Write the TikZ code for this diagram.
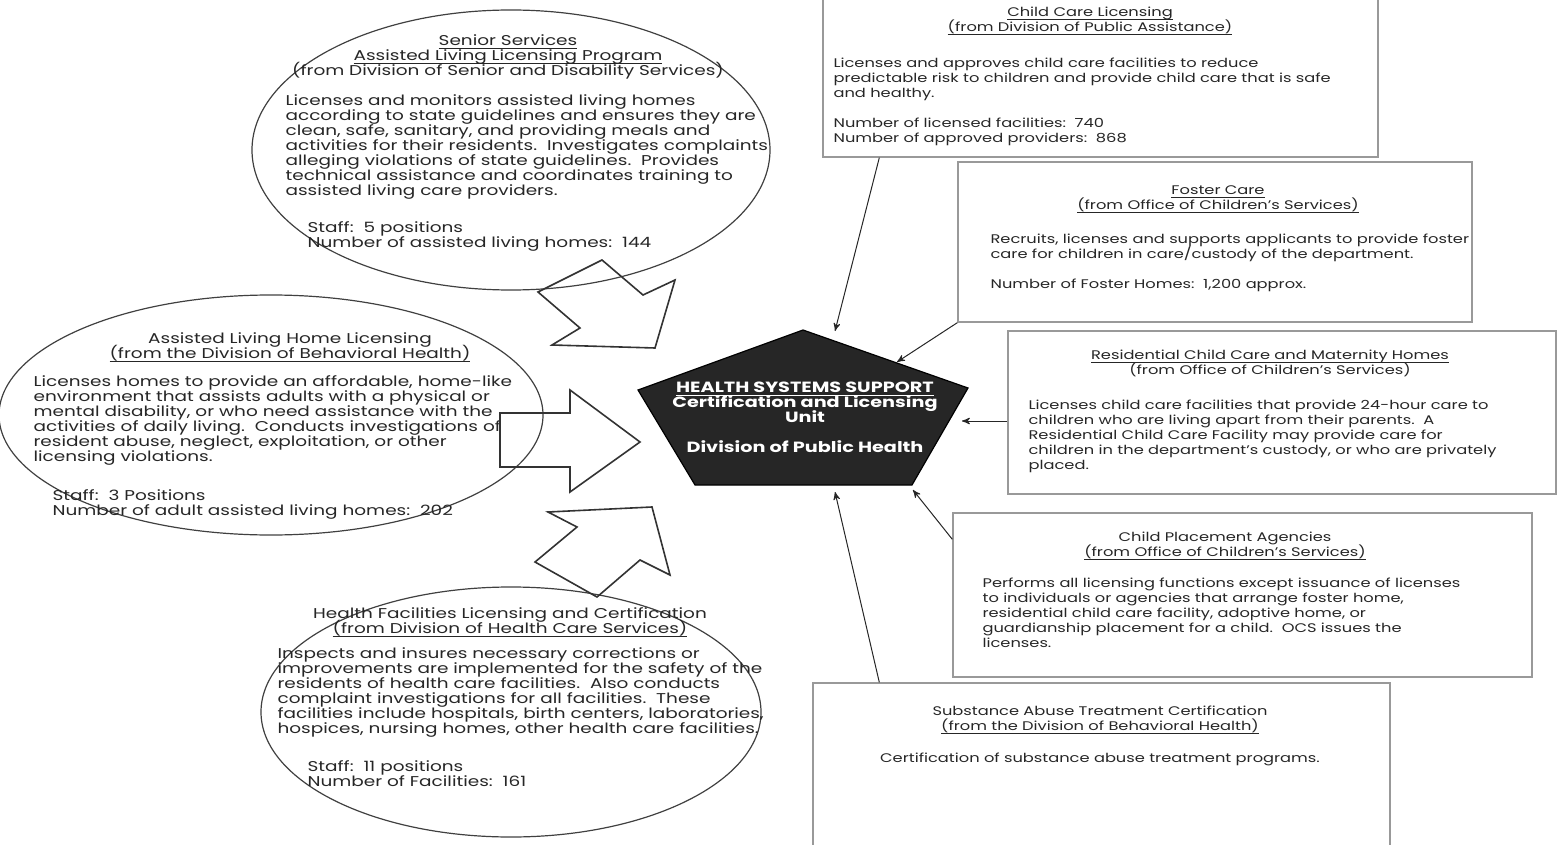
\documentclass[tikz,border=0pt]{standalone}
\usepackage{fontspec}
\setmainfont{Poppins}[FakeStretch=1.3]
\usetikzlibrary{arrows,positioning}

\newcommand{\uln}[1]{\underline{\smash{#1}\vphantom{A}}}
\newcommand{\tightlead}{\setlength{\lineskiplimit}{-20pt}}
\newcommand{\bigtxt}{\fontsize{7.1}{7.5}\selectfont\tightlead}
\newcommand{\smalltxt}{\fontsize{6.25}{7.5}\selectfont\tightlead}
\newcommand{\hubtxt}{\bfseries\fontsize{7.4}{7.5}\selectfont\tightlead}

\begin{document}
\begin{tikzpicture}[x=0.5pt,y=-0.5pt,>=stealth',semithick,
    bubble/.style={draw=black!75,line width=0.6pt},
    panel/.style={draw=black!40,line width=0.7pt,inner sep=0pt},
    head/.style={align=center,inner sep=0pt,text=black!85},
    body/.style={align=left,inner sep=0pt,text=black!85},
    big/.style={font=\bigtxt},
    small/.style={font=\smalltxt},
    fat/.style={draw=black!80,line width=0.8pt},
    link/.style={->,draw=black!85,line width=0.5pt}]

\useasboundingbox (0,0) rectangle (1558,845);

% ellipses on the left
\draw[bubble] (511,150) ellipse [x radius=259, y radius=140];
\draw[bubble] (271,415) ellipse [x radius=272, y radius=120];
\draw[bubble] (511,712) ellipse [x radius=250, y radius=125];

\node[head,big,anchor=north] (srhead) at (508,35)
  {\uln{Senior Services}\\\uln{Assisted Living Licensing Program}\\(from Division of Senior and Disability Services)};
\node[body,big,anchor=north west] (srtext) at (285,94)
  {Licenses and monitors assisted living homes\\according to state guidelines and ensures they are\\clean, safe, sanitary, and providing meals and\\activities for their residents.\ \ Investigates complaints\\alleging violations of state guidelines.\ \ Provides\\technical assistance and coordinates training to\\assisted living care providers.};
\node[body,big,anchor=north west] (srstaff) at (307,221)
  {Staff:\ \ 5 positions\\Number of assisted living homes:\ \ 144};

\node[head,big,anchor=north] (alhead) at (290,332)
  {Assisted Living Home Licensing\\\uln{(from the Division of Behavioral Health)}};
\node[body,big,anchor=north west] (altext) at (33,375)
  {Licenses homes to provide an affordable, home-like\\environment that assists adults with a physical or\\mental disability, or who need assistance with the\\activities of daily living.\ \ Conducts investigations of\\resident abuse, neglect, exploitation, or other\\licensing violations.};
\node[body,big,anchor=north west] (alstaff) at (52,489)
  {Staff:\ \ 3 Positions\\Number of adult assisted living homes:\ \ 202};

\node[head,big,anchor=north] (hfhead) at (510,607)
  {Health Facilities Licensing and Certification\\\uln{(from Division of Health Care Services)}};
\node[body,big,anchor=north west] (hftext) at (277,647)
  {Inspects and insures necessary corrections or\\improvements are implemented for the safety of the\\residents of health care facilities.\ \ Also conducts\\complaint investigations for all facilities.\ \ These\\facilities include hospitals, birth centers, laboratories,\\hospices, nursing homes, other health care facilities.};
\node[body,big,anchor=north west] (hfstaff) at (307,760)
  {Staff:\ \ 11 positions\\Number of Facilities:\ \ 161};

% block arrows
\draw[fat] (602,260) -- (643,295) -- (675,280) -- (655,348) -- (552,345) -- (580,328) -- (538,292) -- cycle;
\draw[fat] (500,413) -- (570,413) -- (570,390) -- (640,442) -- (570,492) -- (570,467) -- (500,467) -- cycle;
\draw[fat] (548,512) -- (652,507) -- (670,575) -- (640,560) -- (597,597) -- (535,562) -- (577,527) -- cycle;

% centre
\draw[fill=black!85,draw=black] (803,330) -- (968,388) -- (912,485) -- (695,485) -- (638,390) -- cycle;
\node[font=\hubtxt,text=white,align=center,inner sep=0pt] (hss) at (805,417)
  {\uln{HEALTH SYSTEMS SUPPORT}\\Certification and Licensing\\Unit\\[7.5pt]Division of Public Health};

\coordinate (pa) at (835,331);
\coordinate (pb) at (897,362);
\coordinate (pc) at (962,421);
\coordinate (pd) at (913,490);
\coordinate (pe) at (835,492);

% boxes on the right
\node[panel,minimum width=277.5pt,minimum height=81pt] (ccl) at (1100.5,76) {};
\node[panel,minimum width=257pt,minimum height=80pt] (fc) at (1215,242) {};
\node[panel,minimum width=274pt,minimum height=81.5pt] (rcc) at (1282,412.5) {};
\node[panel,minimum width=289.5pt,minimum height=82pt] (cpa) at (1242.5,595) {};
\node[panel,minimum width=288.5pt,minimum height=88.5pt] (sat) at (1101.5,771.5) {};

\node[head,small,anchor=north] (cclhead) at (1090,7)
  {\uln{Child Care Licensing}\\\uln{(from Division of Public Assistance)}};
\node[body,small,anchor=north west] (ccltext) at (833,57)
  {Licenses and approves child care facilities to reduce\\predictable risk to children and provide child care that is safe\\and healthy.\\[7.5pt]Number of licensed facilities:\ \ 740\\Number of approved providers:\ \ 868};

\node[head,small,anchor=north] (fchead) at (1218,185)
  {\uln{Foster Care}\\\uln{(from Office of Children's Services)}};
\node[body,small,anchor=north west] (fctext) at (990,233)
  {Recruits, licenses and supports applicants to provide foster\\care for children in care/custody of the department.\\[7.5pt]Number of Foster Homes:\ \ 1,200 approx.};

\node[head,small,anchor=north] (rcchead) at (1270,350)
  {\uln{Residential Child Care and Maternity Homes}\\(from Office of Children's Services)};
\node[body,small,anchor=north west] (rcctext) at (1028,399)
  {Licenses child care facilities that provide 24-hour care to\\children who are living apart from their parents.\ \ A\\Residential Child Care Facility may provide care for\\children in the department's custody, or who are privately\\placed.};

\node[head,small,anchor=north] (cpahead) at (1225,531)
  {Child Placement Agencies\\\uln{(from Office of Children's Services)}};
\node[body,small,anchor=north west] (cpatext) at (982,577)
  {Performs all licensing functions except issuance of licenses\\to individuals or agencies that arrange foster home,\\residential child care facility, adoptive home, or\\guardianship placement for a child.\ \ OCS issues the\\licenses.};

\node[head,small,anchor=north] (sathead) at (1100,705)
  {Substance Abuse Treatment Certification\\\uln{(from the Division of Behavioral Health)}};
\node[head,small,anchor=north] (sattext) at (1100,752)
  {Certification of substance abuse treatment programs.};

% links into the centre
\draw[link] (ccl.south west) ++(57,0) -- (pa);
\draw[link] (fc.south west) -- (pb);
\draw[link] (rcc.west |- pc) -- (pc);
\draw[link] (cpa.north west) ++(0,27) -- (pd);
\draw[link] (sat.north west) ++(67,0) -- (pe);

\end{tikzpicture}
\end{document}
